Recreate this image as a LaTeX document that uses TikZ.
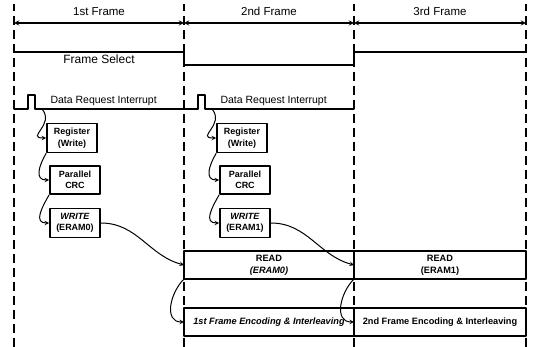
\documentclass[tikz,border=0pt]{standalone}
\usepackage{fontspec}
\setmainfont{Liberation Sans}
\begin{document}
\begin{tikzpicture}[x=1pt,y=1pt,line join=round,line cap=round,>=stealth]
	\tikzset{framesep/.style={dash pattern=on 9pt off 5pt,line width=1.3pt,line cap=butt},
		sig/.style={line width=1.4pt},
		blk/.style={draw,line width=1.8pt,align=center,inner sep=0pt,minimum width=50pt,minimum height=29pt,font=\fontsize{9}{11.5}\selectfont\bfseries},
		row/.style={draw,line width=1.4pt,inner sep=0pt,outer sep=0pt,minimum height=28pt,align=center,font=\fontsize{9.2}{12}\selectfont\bfseries},
		flow/.style={->,line width=1pt}}
	\useasboundingbox (0,0) rectangle (533,347);
	\foreach \x/\n in {14/0,184/1,354/2,526/3}
	{\draw[framesep] (\x,0)--(\x,343);
	\coordinate (b\n) at (\x,324);}
	\foreach \a/\b/\t in {b0/b1/1st Frame,b1/b2/2nd Frame,b2/b3/3rd Frame}
	\draw[<->,line width=1.3pt] (\a)--(\b) node[midway,above=3pt,font=\fontsize{11.5}{12}\selectfont] (lab\a) {\t};
	\draw[sig] (14,295)--(184,295)--(184,282)--(354,282)--(354,295)--(526,295);
	\node[font=\fontsize{12}{14}\selectfont] (fs) at (99,288) {Frame Select};
	\foreach \i/\x/\m in {1/14/0,2/184/1}
	{\draw[sig] (\x,238)--(\x+14,238)--(\x+14,252)--(\x+21,252)--(\x+21,238)--(\x+170,238);
	\node[anchor=west,font=\fontsize{10.5}{12}\selectfont] (dri\i) at (\x+33,246) {Data Request Interrupt};
	\coordinate (irq\i) at (\x+28,238);
	\node[blk] (reg\i) at (\x+58,209) {Register\\(Write)};
	\node[blk,minimum height=28pt] (crc\i) at (\x+61,167) {Parallel\\CRC};
	\node[blk] (wr\i) at (\x+61,124) {\textit{WRITE}\\(ERAM\m)};
	\draw[flow] (irq\i) to[out=-50,in=180,looseness=1.8] (reg\i.west);
	\draw[flow] (reg\i.south west) to[out=-120,in=180,looseness=1.4] (crc\i.west);
	\draw[flow] (crc\i.south west) to[out=-120,in=180,looseness=1.4] (wr\i.west);}
	\node[row,minimum width=170pt] (rd1) at (269,82) {READ\\\textit{(ERAM0)}};
	\node[row,minimum width=172pt] (rd2) at (440,82) {READ\\(ERAM1)};
	\node[row,minimum width=170pt] (enc1) at (269,25) {\textit{1st Frame Encoding \& Interleaving}};
	\node[row,minimum width=172pt] (enc2) at (440,25) {2nd Frame Encoding \& Interleaving};
	\draw[flow] (wr1.east) to[out=0,in=165] (rd1.west);
	\draw[flow] (wr2.east) to[out=0,in=165] (rd2.west);
	\draw[flow] (rd1.south west) to[out=225,in=180,looseness=1.2] (enc1.west);
	\draw[flow] (rd2.south west) to[out=225,in=180,looseness=1.2] (enc2.west);
\end{tikzpicture}
\end{document}
